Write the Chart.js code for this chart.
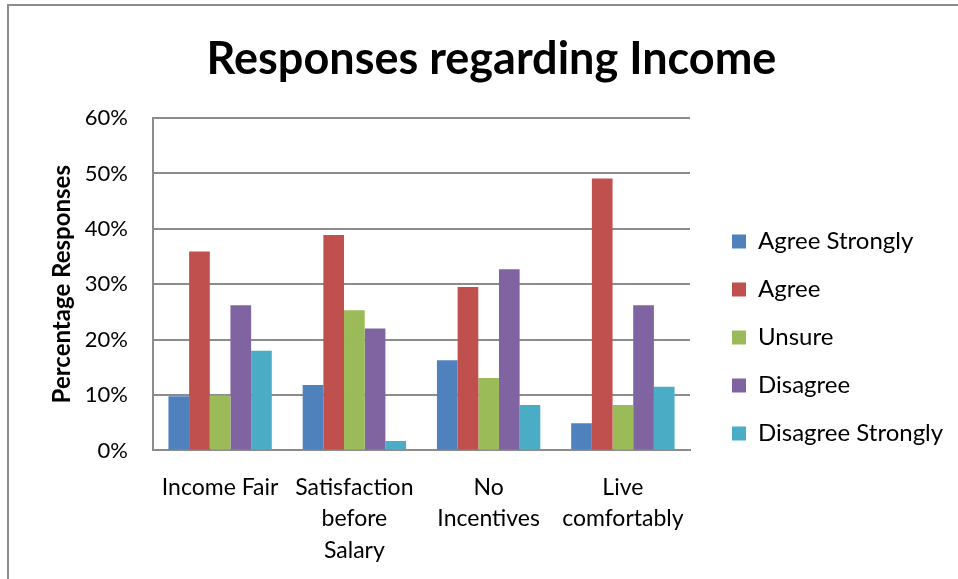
<!DOCTYPE html>
<html>
<head>
<meta charset="utf-8">
<script src="https://cdn.jsdelivr.net/npm/chart.js@4/dist/chart.umd.min.js"></script>
<style>
  body { margin: 0; background: #fff; }
  .frame { position: absolute; left: 7px; top: 4px; width: 960px; height: 590px;
           border-top: 2px solid #8c8c8c; border-left: 2px solid #8c8c8c; }
  #chart { position: absolute; left: 0; top: 0; }
</style>
</head>
<body>
<div class="frame"></div>
<canvas id="chart" width="958" height="579"></canvas>
<script>
const categories = ["Income Fair", ["Satisfaction", "before", "Salary"], ["No", "Incentives"], ["Live", "comfortably"]];
const agreeStrongly = [9.8, 11.8, 16.3, 4.9];
const agree = [35.9, 38.9, 29.5, 49.1];
const unsure = [9.9, 25.3, 13.1, 8.2];
const disagree = [26.2, 22.0, 32.7, 26.2];
const disagreeStrongly = [18.0, 1.7, 8.2, 11.5];
const yTicks = [0, 10, 20, 30, 40, 50, 60];

const font = "Lato, 'Open Sans', sans-serif";
const gridColor = "#8c8c8c";

// widen the legend box and nudge its items so they sit where Excel put them
const legendPlace = {
  id: "legendPlace",
  afterInit(chart) {
    const lg = chart.legend;
    const fit = lg.fit;
    lg.fit = function () { fit.call(this); this.width = 263; };
    const draw = lg.draw;
    lg.draw = function () {
      this.left += 18; this.right += 18; this.top += 33; this.bottom += 33;
      draw.call(this);
      this.left -= 18; this.right -= 18; this.top -= 33; this.bottom -= 33;
    };
  }
};

const ctx = document.getElementById("chart");
new Chart(ctx, {
  type: "bar",
  data: {
    labels: categories,
    datasets: [
      { label: "Agree Strongly", data: agreeStrongly, backgroundColor: "#4F81BD" },
      { label: "Agree", data: agree, backgroundColor: "#C0504D" },
      { label: "Unsure", data: unsure, backgroundColor: "#9BBB59" },
      { label: "Disagree", data: disagree, backgroundColor: "#8064A2" },
      { label: "Disagree Strongly", data: disagreeStrongly, backgroundColor: "#4BACC6" }
    ]
  },
  plugins: [legendPlace],
  options: {
    responsive: false,
    animation: false,
    layout: { padding: { left: 30, right: 5, top: 22, bottom: -8 } },
    datasets: { bar: { categoryPercentage: 0.77, barPercentage: 1.0 } },
    plugins: {
      title: {
        display: true,
        text: "Responses regarding Income",
        color: "#000",
        font: { family: font, size: 45, weight: "bold" },
        padding: { top: 10, bottom: 32 }
      },
      legend: {
        position: "right",
        maxWidth: 300,
        labels: {
          color: "#000",
          font: { family: font, size: 24 },
          boxWidth: 14,
          boxHeight: 14,
          padding: 24
        }
      },
      tooltip: { enabled: false }
    },
    scales: {
      x: {
        grid: { display: false, drawTicks: false },
        border: { color: gridColor, width: 2 },
        ticks: {
          color: "#000",
          font: { family: font, size: 23, lineHeight: 1.37 },
          padding: 21,
          maxRotation: 0,
          autoSkip: false
        }
      },
      y: {
        min: 0,
        max: 60,
        afterBuildTicks: (axis) => { axis.ticks = yTicks.map(v => ({ value: v })); },
        afterFit: (axis) => { axis.width = 123; },
        grid: { color: gridColor, lineWidth: 2, drawTicks: false },
        border: { color: gridColor, width: 2 },
        ticks: {
          color: "#000",
          font: { family: font, size: 22 },
          padding: 25,
          callback: (v) => v + "%"
        },
        title: {
          display: true,
          text: "Percentage Responses",
          color: "#000",
          font: { family: font, size: 24, weight: "bold" },
          padding: { top: 18, bottom: 0 }
        }
      }
    }
  }
});
</script>
</body>
</html>
